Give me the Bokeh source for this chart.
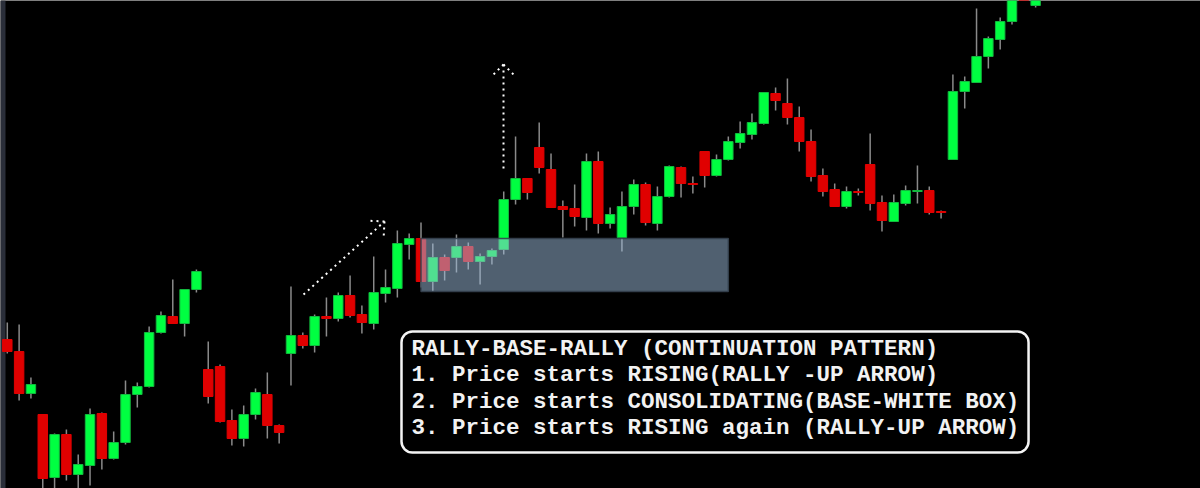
import math

from bokeh.core.properties import value
from bokeh.embed import file_html
from bokeh.models import BoxAnnotation, ColumnDataSource, Range1d
from bokeh.plotting import figure
from bokeh.resources import INLINE

# ---- OHLC series (one entry per session) ----
opens = [149, 137, 95, 74, 11, 54, 14, 23, 75, 30,
         46, 94, 102, 156, 172, 165, 199, 119, 122, 68,
         50, 74, 94, 63, 135, 153, 143, 172, 170, 193,
         174, 165, 195, 200, 244, 250, 207, 231, 231, 242,
         227, 232, 239, 289, 310, 341, 319, 282, 280, 271,
         327, 265, 251, 282, 304, 265, 292, 321, 305, 337,
         313, 329, 346, 354, 365, 395, 385, 371, 347, 313,
         299, 282, 297, 324, 286, 267, 285, 297, 298, 277,
         329, 397, 406, 432, 449, 467, 515, 483]
highs = [166, 164, 111, 74, 55, 59, 34, 80, 76, 57,
         108, 106, 162, 177, 209, 199, 219, 147, 124, 79,
         83, 100, 116, 64, 202, 156, 174, 191, 196, 213,
         183, 232, 219, 258, 255, 266, 245, 234, 254, 246,
         235, 240, 297, 352, 310, 366, 335, 288, 304, 335,
         337, 281, 297, 309, 306, 302, 323, 322, 312, 337,
         334, 352, 367, 375, 396, 401, 410, 382, 359, 320,
         305, 302, 300, 355, 293, 294, 303, 323, 302, 278,
         414, 412, 480, 452, 471, 505, 525, 510]
lows = [135, 88, 90, -2, -2, 8, -2, 3, 19, 29,
        44, 81, 101, 155, 165, 152, 196, 85, 66, 43,
        42, 69, 50, 45, 103, 140, 136, 152, 167, 171,
        155, 159, 186, 191, 229, 201, 197, 208, 216, 219,
        204, 224, 234, 284, 289, 315, 281, 251, 262, 258,
        255, 260, 237, 274, 263, 258, 291, 291, 295, 301,
        312, 328, 340, 349, 364, 378, 364, 337, 307, 292,
        282, 280, 293, 278, 257, 267, 283, 285, 274, 270,
        329, 380, 406, 420, 439, 464, 494, 481]
closes = [137, 95, 104, 10, 54, 14, 24, 74, 30, 46,
          94, 102, 156, 173, 165, 199, 217, 92, 67, 50,
          74, 96, 63, 56, 153, 143, 172, 170, 193, 173,
          166, 196, 201, 245, 250, 207, 231, 218, 242, 227,
          232, 238, 289, 310, 296, 321, 281, 279, 272, 327,
          265, 274, 282, 304, 266, 292, 322, 305, 304, 313,
          329, 347, 355, 366, 396, 388, 371, 347, 312, 297,
          282, 297, 296, 285, 268, 286, 298, 298, 276, 276,
          397, 407, 432, 450, 467, 498, 496, 505]

# consolidation zone (session index span, price span)
base_sessions = [35.0, 61.0]
base_prices = [197, 250]

# dotted "rally" arrows: (session, price) start -> end
rally_arrows = [
    ((25.06, 194), (31.91, 267)),
    ((41.98, 320), (41.98, 424)),
]

note_lines = [
    "RALLY-BASE-RALLY (CONTINUATION PATTERN)",
    "1. Price starts RISING(RALLY -UP ARROW)",
    "2. Price starts CONSOLIDATING(BASE-WHITE BOX)",
    "3. Price starts RISING again (RALLY-UP ARROW)",
]
note_prices = [140, 114, 87, 61]

# ---- layout ----
W, H = 1200, 488
PX_PER_SESSION = 11.82
X0 = -6.8 / PX_PER_SESSION
X1 = X0 + W / PX_PER_SESSION
Y0, Y1 = 0, 488
px_per_price = H / (Y1 - Y0)

UP, DOWN = "#00ff41", "#e00000"

idx = list(range(len(opens)))
src = ColumnDataSource(dict(
    x=idx,
    high=highs,
    low=lows,
    top=[max(o, c) for o, c in zip(opens, closes)],
    bottom=[min(o, c) for o, c in zip(opens, closes)],
    fill=[UP if c >= o else DOWN for o, c in zip(opens, closes)],
    edge=["#12b83e" if c >= o else DOWN for o, c in zip(opens, closes)],
))

p = figure(width=W, height=H, output_backend="svg", toolbar_location=None,
           x_range=Range1d(X0, X1), y_range=Range1d(Y0, Y1),
           background_fill_color="#000000", border_fill_color="#000000",
           min_border=0, outline_line_color=None)
p.axis.visible = False
p.grid.visible = False

# left edge strip
p.add_layout(BoxAnnotation(left=X0, right=X0 + 5 / PX_PER_SESSION,
                           fill_color="#2a2e39", fill_alpha=1, line_alpha=0,
                           level="underlay"))

# wicks then bodies
p.segment(x0="x", y0="low", x1="x", y1="high", source=src,
          line_color="#8a8a8a", line_width=1.5)
p.vbar(x="x", width=0.8, top="top", bottom="bottom", source=src,
       fill_color="fill", line_color="edge", line_width=1)

# base zone overlay
p.add_layout(BoxAnnotation(left=base_sessions[0], right=base_sessions[1],
                           bottom=base_prices[0], top=base_prices[1],
                           fill_color="#a0c0e0", fill_alpha=0.5,
                           line_color="#34404e", line_alpha=0.9,
                           line_width=1.5))

# dotted arrows with open heads
dot = dict(line_color="#ffffff", line_width=2, line_dash="2 4")
head_len, head_ang = 14, math.radians(45)
for (xa, ya), (xb, yb) in rally_arrows:
    p.line([xa, xb], [ya, yb], **dot)
    dx = (xb - xa) * PX_PER_SESSION
    dy = (yb - ya) * px_per_price
    back = math.atan2(-dy, -dx)
    for s in (-1, 1):
        a = back + s * head_ang
        hx = xb + head_len * math.cos(a) / PX_PER_SESSION
        hy = yb + head_len * math.sin(a) / px_per_price
        p.line([xb, hx], [yb, hy], **dot)

# note panel
p.add_layout(BoxAnnotation(left=33.35, right=86.4, bottom=36, top=157,
                           fill_color="#000000", fill_alpha=1,
                           line_color="#f4f4f4", line_alpha=1,
                           line_width=2.5, border_radius=11))
p.text(x=[34.2] * len(note_lines), y=note_prices, text=note_lines,
       text_font=value("Liberation Mono"), text_font_style="bold",
       text_font_size="22.5px", text_color="#f2f2f2",
       text_baseline="middle", text_align="left", level="overlay")

open("out.html", "w").write(file_html(p, INLINE))
